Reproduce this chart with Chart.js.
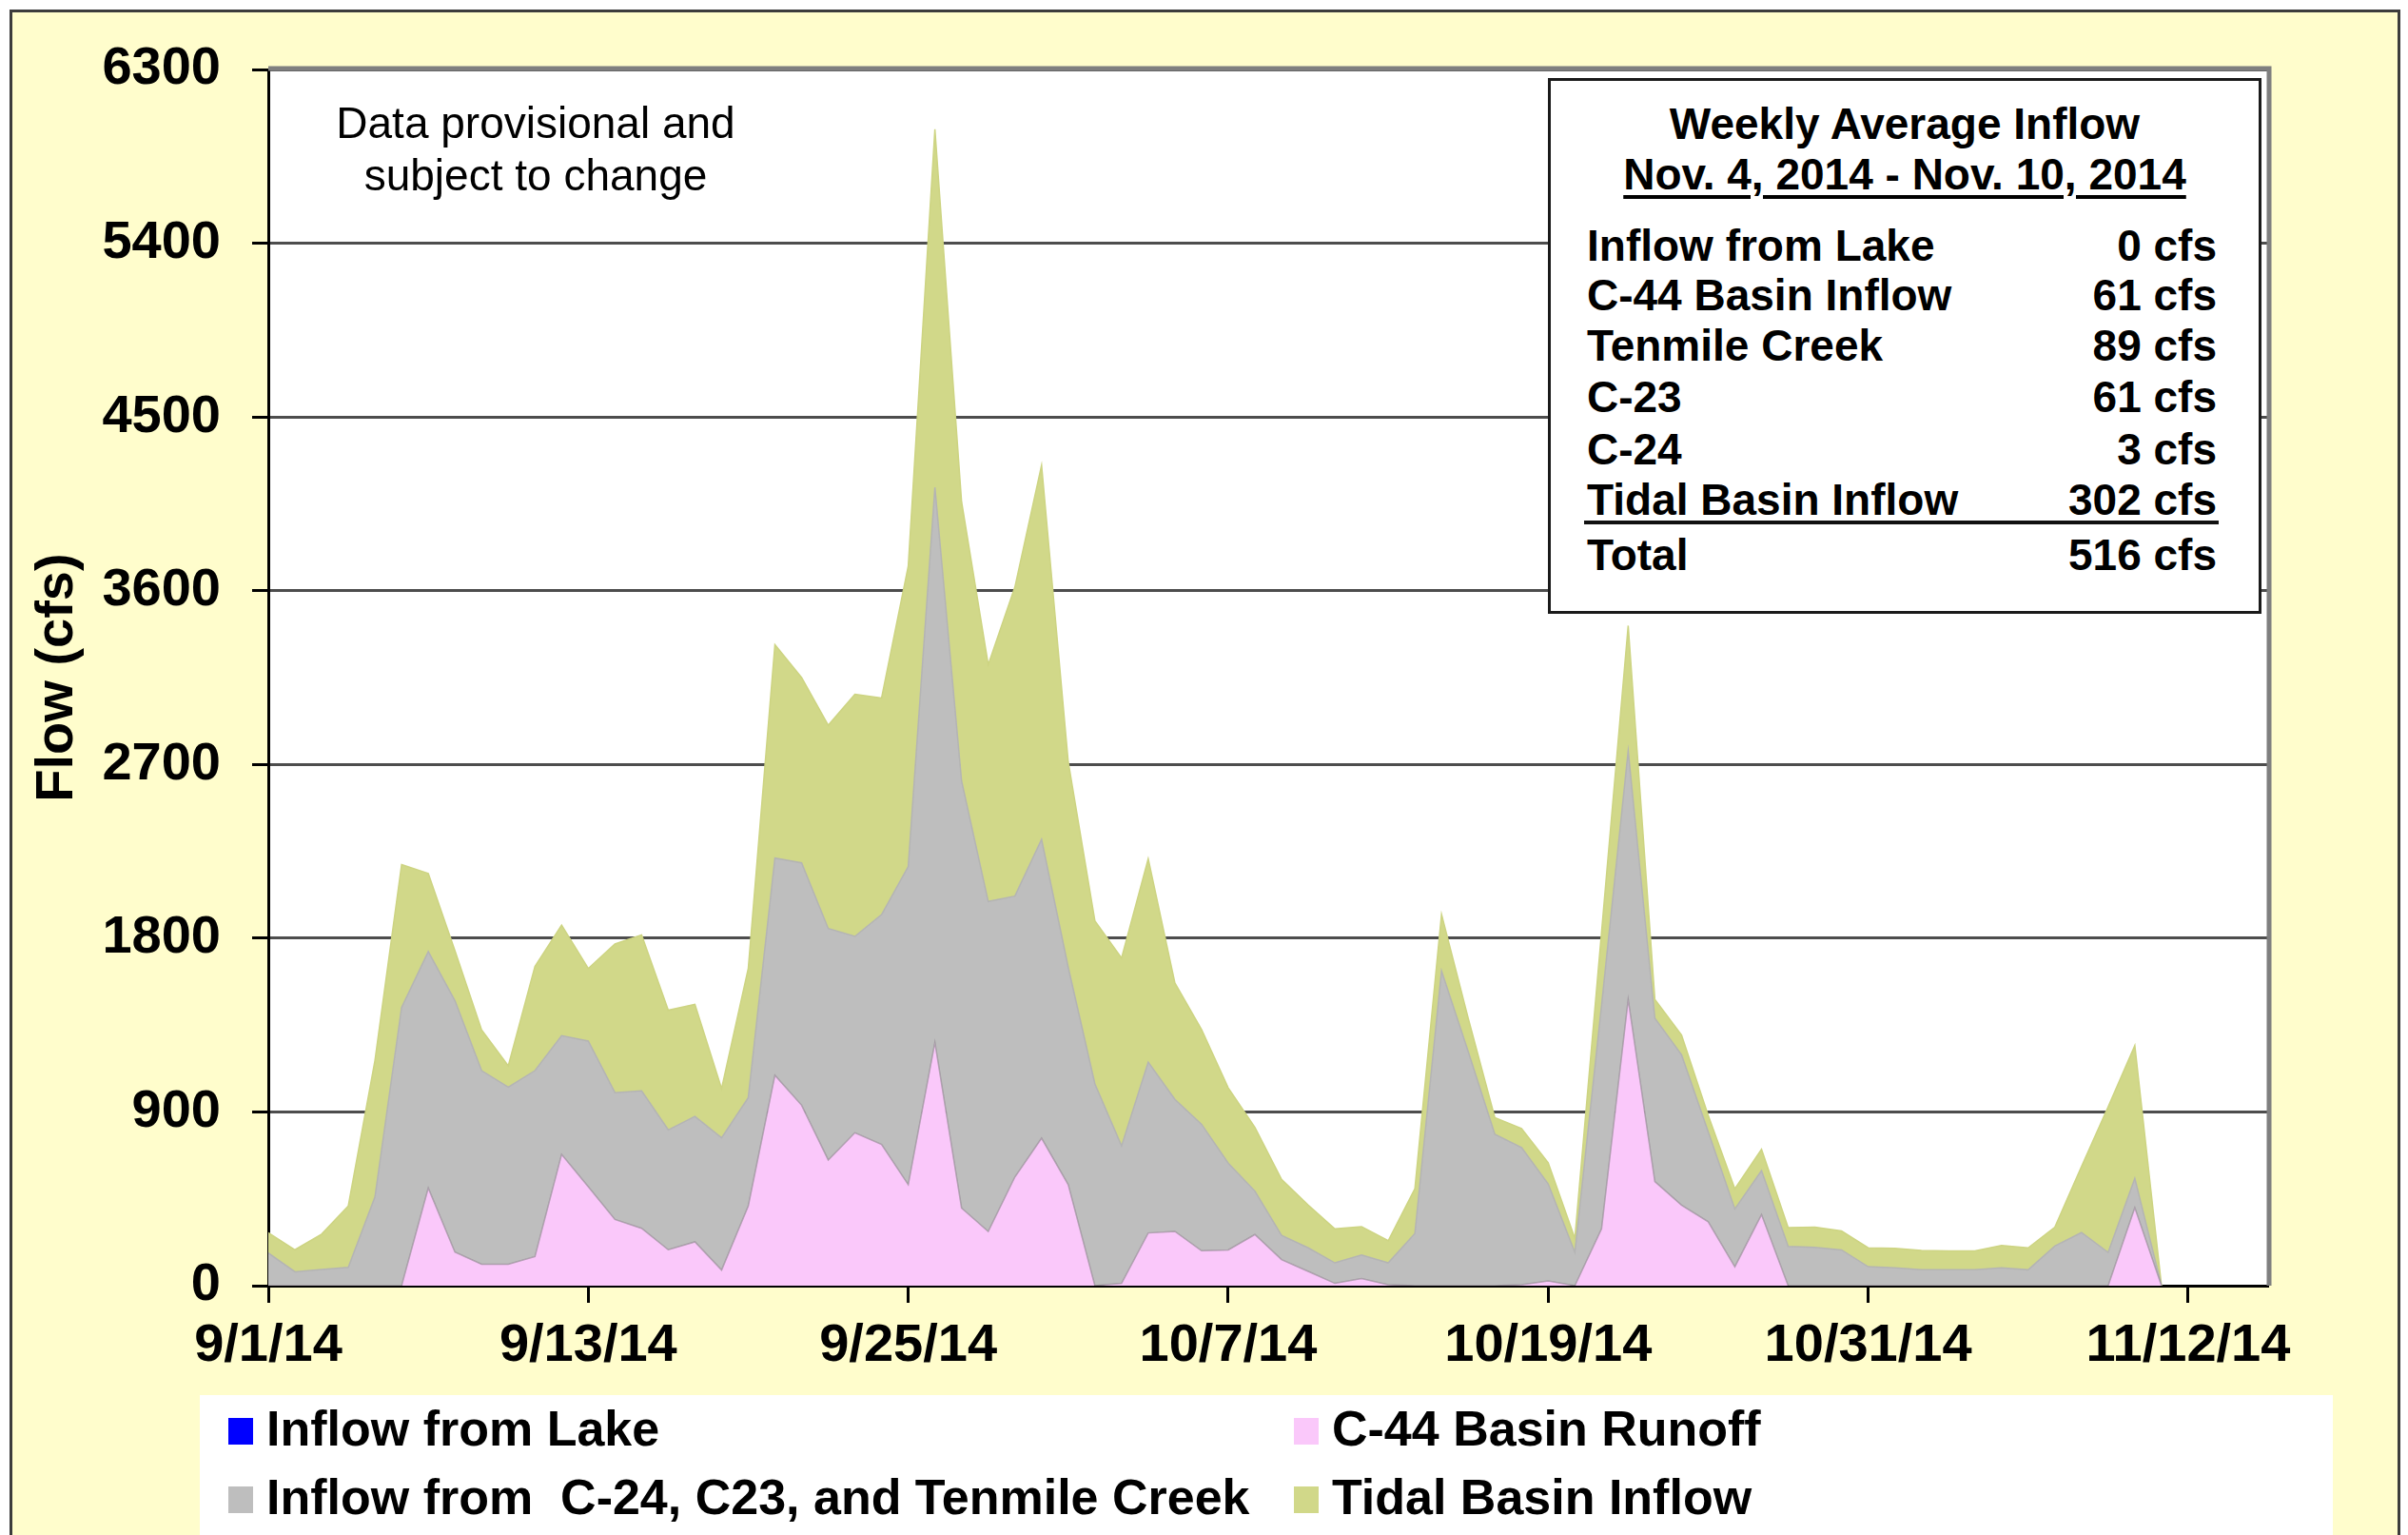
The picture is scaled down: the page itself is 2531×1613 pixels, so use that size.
<!DOCTYPE html>
<html lang="en">
<head>
<meta charset="UTF-8">
<title>Inflow</title>
<script src="https://cdn.jsdelivr.net/npm/chart.js@4.4.1/dist/chart.umd.min.js"></script>
<style>
    body {
        margin: 0;
        width: 2531px;
        height: 1613px;
        overflow: hidden;
        position: relative;
        background: #fff;
        font-family: Arial, "Liberation Sans", sans-serif;
    }
    .frame {
        position: absolute;
        left: 10px; top: 10px;
        width: 2513px; height: 1700px;
        box-sizing: border-box;
        border: 3px solid #3c3c3c;
        background: #fffdcc;
    }
    #chart { position: absolute; left: 0; top: 0; }
    .txt { position: absolute; line-height: 1; white-space: pre; color: #000; }
    .note { font-size: 46px; width: 440px; left: 343px; text-align: center; }
    .box {
        position: absolute;
        left: 1627px; top: 82px;
        width: 750px; height: 563px;
        box-sizing: border-box;
        border: 3px solid #1a1a1a;
        background: #fff;
    }
    .sum { font-size: 46px; font-weight: bold; }
    .legend {
        position: absolute;
        left: 210px; top: 1466px;
        width: 2242px; height: 200px;
        background: #fff;
    }
    .sw { position: absolute; width: 26px; height: 28px; }
    .lg { font-size: 52px; font-weight: bold; }
</style>
</head>
<body>
<div class="frame"></div>
<canvas id="chart" width="2531" height="1460"></canvas>

<div class="txt note" style="top:106px">Data provisional and</div>
<div class="txt note" style="top:161px">subject to change</div>

<div class="box"></div>
<div id="summary"></div>

<div class="legend"></div>
<div id="legendItems"></div>

<script>
    // days since 9/1/14, one value per day
    const lakeInflow = [0,0,0,0,0,0,0,0,0,0,0,0,0,0,0,0,0,0,0,0,0,0,0,0,0,0,0,0,0,0,0,0,0,0,0,0,
        0,0,0,0,0,0,0,0,0,0,0,0,0,0,0,0,0,0,0,0,0,0,0,0,0,0,0,0,0,0,0,0,0,0,0,0];
    const c44Runoff = [0,0,0,0,0,0,506,174,111,111,151,680,513,343,297,186,227,81,413,1090,935,651,792,732,
        523,1260,402,281,563,764,523,0,12,273,281,181,185,265,135,74,12,37,5,0,0,0,0,5,
        25,0,294,1483,539,417,331,98,368,0,0,0,0,0,0,0,0,0,0,0,0,0,404,0];
    const basinInflow = [169,72,84,95,459,1441,1225,1302,1003,917,963,615,754,657,712,621,650,685,561,1125,1255,1199,1017,1190,
        1648,2875,2212,1709,1455,1548,1126,1045,712,885,684,655,450,225,125,122,106,122,113,270,1630,1213,784,711,
        502,172,1156,1287,846,779,466,299,228,203,198,185,98,93,82,82,82,93,82,205,275,172,152,0];
    const tidalInflow = [105,114,183,318,708,740,404,259,211,111,540,573,376,770,808,620,580,255,669,1105,960,1053,1255,1122,
        1556,1855,1447,1227,1601,1938,1065,845,973,1053,603,491,390,330,291,221,176,147,115,232,294,172,86,98,
        110,73,380,649,98,103,85,105,110,98,105,98,98,100,101,98,98,115,114,98,342,754,688,0];

    const tickDays = [0, 12, 24, 36, 48, 60, 72];
    const tickLabels = ['9/1/14', '9/13/14', '9/25/14', '10/7/14', '10/19/14', '10/31/14', '11/12/14'];
    const yTicks = [0, 900, 1800, 2700, 3600, 4500, 5400, 6300];

    const summaryRows = [
        ['Inflow from Lake', '0 cfs'],
        ['C-44 Basin Inflow', '61 cfs'],
        ['Tenmile Creek', '89 cfs'],
        ['C-23', '61 cfs'],
        ['C-24', '3 cfs'],
        ['Tidal Basin Inflow', '302 cfs'],
        ['Total', '516 cfs']
    ];

    const FONT = 'Arial, "Liberation Sans", sans-serif';
    const toPoints = arr => arr.map((v, i) => ({ x: i, y: v }));

    const series = [
        { label: 'Inflow from Lake', data: lakeInflow, color: '#0000ff', fill: 'origin' },
        { label: 'C-44 Basin Runoff', data: c44Runoff, color: '#fac8fa', fill: '-1', line: 'rgba(150,140,150,0.7)' },
        { label: 'Inflow from  C-24, C23, and Tenmile Creek', data: basinInflow, color: '#bebebe', fill: '-1', line: '#b4b4b4' },
        { label: 'Tidal Basin Inflow', data: tidalInflow, color: '#d1d889', fill: '-1', line: '#cdd482' }
    ];

    // white plot area and the grey frame on top/right
    const plotFrame = {
        id: 'plotFrame',
        beforeDraw(chart) {
            const { ctx, chartArea: a } = chart;
            ctx.save();
            ctx.fillStyle = '#fff';
            ctx.fillRect(a.left, a.top, a.right - a.left, a.bottom - a.top);
            ctx.restore();
        },
        afterDraw(chart) {
            const { ctx, chartArea: a } = chart;
            ctx.save();
            ctx.strokeStyle = '#7f7f7f';
            ctx.lineWidth = 5;
            ctx.beginPath();
            ctx.moveTo(a.left, a.top - 1);
            ctx.lineTo(a.right + 1, a.top - 1);
            ctx.lineTo(a.right + 1, a.bottom);
            ctx.stroke();
            ctx.restore();
        }
    };

    new Chart(document.getElementById('chart'), {
        type: 'line',
        data: {
            datasets: series.map(s => ({
                label: s.label,
                data: toPoints(s.data),
                backgroundColor: s.color,
                borderColor: s.line || s.color,
                borderWidth: s.line ? 1.5 : 0,
                fill: s.fill,
                pointRadius: 0,
                tension: 0
            }))
        },
        options: {
            responsive: false,
            animation: false,
            layout: { padding: { left: 27, top: 73, right: 147, bottom: 0 } },
            plugins: { legend: { display: false }, tooltip: { enabled: false } },
            scales: {
                x: {
                    type: 'linear',
                    min: 0,
                    max: 75,
                    afterBuildTicks: s => { s.ticks = tickDays.map(v => ({ value: v })); },
                    afterFit: s => { s.height = 109; },
                    ticks: {
                        autoSkip: false,
                        maxRotation: 0,
                        padding: 12,
                        color: '#000',
                        font: { size: 56, weight: 'bold', family: FONT },
                        callback: (v, i) => tickLabels[i]
                    },
                    grid: { drawOnChartArea: false, tickLength: 18, tickColor: '#000', tickWidth: 3 },
                    border: { color: '#000', width: 3 }
                },
                y: {
                    stacked: true,
                    min: 0,
                    max: 6300,
                    afterBuildTicks: s => { s.ticks = yTicks.map(v => ({ value: v })); },
                    afterFit: s => { s.width = 255; },
                    ticks: {
                        padding: 33,
                        color: '#000',
                        font: { size: 56, weight: 'bold', family: FONT },
                        callback: v => String(v)
                    },
                    grid: { color: '#4d4d4d', lineWidth: 3, tickLength: 17, tickColor: '#000', tickWidth: 3 },
                    border: { color: '#000', width: 3 },
                    title: {
                        display: true,
                        text: 'Flow (cfs)',
                        color: '#000',
                        padding: 0,
                        font: { size: 56, weight: 'bold', family: FONT }
                    }
                }
            }
        },
        plugins: [plotFrame]
    });

    // summary box text
    const summary = document.getElementById('summary');
    const addText = (parent, text, cls, style) => {
        const d = document.createElement('div');
        d.className = 'txt ' + cls;
        d.textContent = text;
        Object.assign(d.style, style);
        parent.appendChild(d);
        return d;
    };
    addText(summary, 'Weekly Average Inflow', 'sum', { left: '1627px', width: '750px', textAlign: 'center', top: '107px' });
    addText(summary, 'Nov. 4, 2014 - Nov. 10, 2014', 'sum', {
        left: '1627px', width: '750px', textAlign: 'center', top: '160px',
        textDecoration: 'underline', textDecorationThickness: '4px', textUnderlineOffset: '6px'
    });
    const rowCenters = [257, 309, 362, 416, 471, 524, 582];
    summaryRows.forEach((r, i) => {
        const top = (rowCenters[i] - 22.5) + 'px';
        addText(summary, r[0], 'sum', { left: '1668px', top: top });
        addText(summary, r[1], 'sum', { left: '1830px', width: '500px', textAlign: 'right', top: top });
    });
    const rule = document.createElement('div');
    Object.assign(rule.style, { position: 'absolute', left: '1665px', top: '547px', width: '667px', height: '4px', background: '#111' });
    summary.appendChild(rule);

    // legend, two columns like the original
    const legendItems = document.getElementById('legendItems');
    const slots = [
        { s: series[0], sx: 240, tx: 280, cy: 1500 },
        { s: series[1], sx: 1360, tx: 1400, cy: 1500 },
        { s: series[2], sx: 240, tx: 280, cy: 1572 },
        { s: series[3], sx: 1360, tx: 1400, cy: 1572 }
    ];
    slots.forEach(p => {
        const sw = document.createElement('div');
        sw.className = 'sw';
        Object.assign(sw.style, { left: p.sx + 'px', top: (p.cy - 10) + 'px', background: p.s.color });
        legendItems.appendChild(sw);
        addText(legendItems, p.s.label, 'lg', { left: p.tx + 'px', top: (p.cy - 25.5) + 'px' });
    });
</script>
</body>
</html>
